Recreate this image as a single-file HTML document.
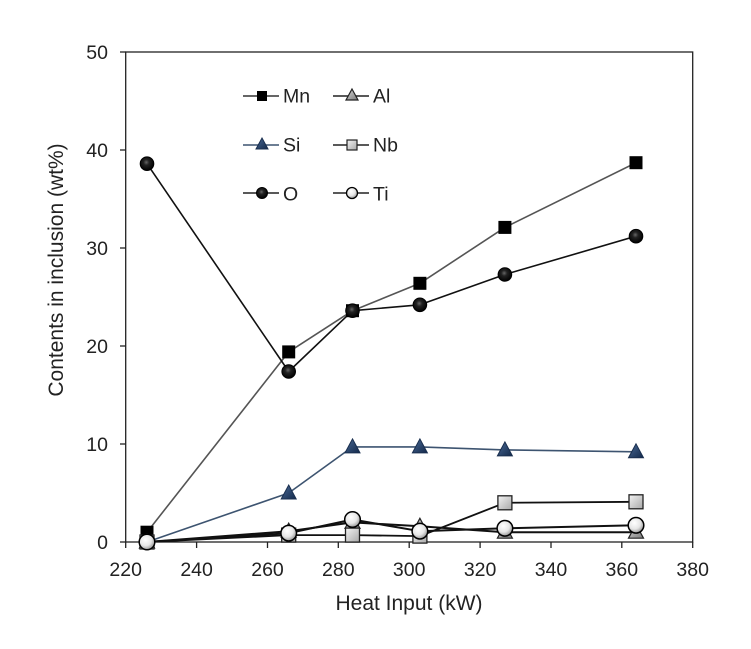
<!DOCTYPE html>
<html><head><meta charset="utf-8"><style>
html,body{margin:0;padding:0;background:#fff;}
svg{display:block;font-family:"Liberation Sans",Arial,sans-serif;}
</style></head><body>
<svg width="751" height="649" viewBox="0 0 751 649" xmlns="http://www.w3.org/2000/svg">
<defs>
<radialGradient id="gTi" cx="40%" cy="35%" r="65%"><stop offset="0" stop-color="#ffffff"/><stop offset="0.6" stop-color="#e6e6e6"/><stop offset="1" stop-color="#9a9a9a"/></radialGradient>
<radialGradient id="gO" cx="45%" cy="40%" r="60%"><stop offset="0" stop-color="#666"/><stop offset="0.35" stop-color="#222"/><stop offset="1" stop-color="#000"/></radialGradient>
<linearGradient id="gNb" x1="0" y1="0" x2="1" y2="1"><stop offset="0" stop-color="#f4f4f4"/><stop offset="1" stop-color="#a8a8a8"/></linearGradient>
<linearGradient id="gAl" x1="0" y1="0" x2="1" y2="1"><stop offset="0" stop-color="#d8d8d8"/><stop offset="1" stop-color="#7a7a7a"/></linearGradient>
<linearGradient id="gSi" x1="0" y1="0" x2="1" y2="1"><stop offset="0" stop-color="#4a6a96"/><stop offset="1" stop-color="#13294a"/></linearGradient>
<rect id="mMn" x="-6.5" y="-6.5" width="13" height="13" fill="#000"/>
<circle id="mO" r="6.8" fill="url(#gO)" stroke="#000" stroke-width="1"/>
<polygon id="mSi" points="0,-8 7.5,6 -7.5,6" fill="url(#gSi)" stroke="#1a2f4f" stroke-width="1"/>
<polygon id="mAl" points="0,-8 7.5,6 -7.5,6" fill="url(#gAl)" stroke="#222" stroke-width="1.2"/>
<rect id="mNb" x="-7" y="-7" width="14" height="14" fill="url(#gNb)" stroke="#222" stroke-width="1.3"/>
<circle id="mTi" r="7.8" fill="url(#gTi)" stroke="#000" stroke-width="1.5"/>
</defs>

<!-- frame -->
<rect x="125.7" y="52" width="567" height="490" fill="none" stroke="#222" stroke-width="1.3"/>
<g stroke="#222" stroke-width="1.3">
<line x1="120" y1="542" x2="125.7" y2="542"/>
<line x1="120" y1="444" x2="125.7" y2="444"/>
<line x1="120" y1="346" x2="125.7" y2="346"/>
<line x1="120" y1="248" x2="125.7" y2="248"/>
<line x1="120" y1="150" x2="125.7" y2="150"/>
<line x1="120" y1="52" x2="125.7" y2="52"/>
<line x1="125.7" y1="542" x2="125.7" y2="548"/>
<line x1="196.6" y1="542" x2="196.6" y2="548"/>
<line x1="267.5" y1="542" x2="267.5" y2="548"/>
<line x1="338.3" y1="542" x2="338.3" y2="548"/>
<line x1="409.2" y1="542" x2="409.2" y2="548"/>
<line x1="480.1" y1="542" x2="480.1" y2="548"/>
<line x1="551" y1="542" x2="551" y2="548"/>
<line x1="621.8" y1="542" x2="621.8" y2="548"/>
<line x1="692.7" y1="542" x2="692.7" y2="548"/>
</g>
<g font-size="19.5" fill="#222" text-anchor="end">
<text x="108" y="549">0</text>
<text x="108" y="451">10</text>
<text x="108" y="353">20</text>
<text x="108" y="255">30</text>
<text x="108" y="157">40</text>
<text x="108" y="59">50</text>
</g>
<g font-size="19.5" fill="#222" text-anchor="middle">
<text x="125.7" y="576">220</text>
<text x="196.6" y="576">240</text>
<text x="267.5" y="576">260</text>
<text x="338.3" y="576">280</text>
<text x="409.2" y="576">300</text>
<text x="480.1" y="576">320</text>
<text x="551" y="576">340</text>
<text x="621.8" y="576">360</text>
<text x="692.7" y="576">380</text>
</g>
<g font-size="21" fill="#222" text-anchor="middle">
<text x="409" y="610">Heat Input (kW)</text>
<text transform="translate(63,270) rotate(-90)">Contents in inclusion (wt%)</text>
</g>

<!-- series lines -->
<g fill="none" stroke-width="1.6" stroke-linejoin="round">
<polyline stroke="#555" points="147,532.2 288.7,351.9 352.5,310.7 419.9,283.3 504.9,227.4 636,162.7"/>
<polyline stroke="#3d5470" points="147,542 288.7,493 352.5,446.9 419.9,446.9 504.9,449.9 636,451.8"/>
<polyline stroke="#111" points="147,163.7 288.7,371.5 352.5,310.7 419.9,304.8 504.9,274.5 636,236.2"/>
<polyline stroke="#111" stroke-width="2" points="147,542 288.7,531.2 352.5,522.4 419.9,526.3 504.9,532.2 636,532.2"/>
<polyline stroke="#111" stroke-width="1.8" points="147,542 288.7,535.1 352.5,535.1 419.9,536.1 504.9,502.8 636,501.8"/>
<polyline stroke="#111" stroke-width="2" points="147,542 288.7,533.2 352.5,519.5 419.9,531.2 504.9,528.3 636,525.3"/>
</g>

<!-- markers -->
<use href="#mMn" x="147" y="532.2"/><use href="#mMn" x="288.7" y="351.9"/><use href="#mMn" x="352.5" y="310.7"/><use href="#mMn" x="419.9" y="283.3"/><use href="#mMn" x="504.9" y="227.4"/><use href="#mMn" x="636" y="162.7"/>
<use href="#mSi" x="147" y="542"/><use href="#mSi" x="288.7" y="493"/><use href="#mSi" x="352.5" y="446.9"/><use href="#mSi" x="419.9" y="446.9"/><use href="#mSi" x="504.9" y="449.9"/><use href="#mSi" x="636" y="451.8"/>
<use href="#mO" x="147" y="163.7"/><use href="#mO" x="288.7" y="371.5"/><use href="#mO" x="352.5" y="310.7"/><use href="#mO" x="419.9" y="304.8"/><use href="#mO" x="504.9" y="274.5"/><use href="#mO" x="636" y="236.2"/>
<use href="#mAl" x="147" y="542"/><use href="#mAl" x="288.7" y="531.2"/><use href="#mAl" x="352.5" y="522.4"/><use href="#mAl" x="419.9" y="526.3"/><use href="#mAl" x="504.9" y="532.2"/><use href="#mAl" x="636" y="532.2"/>
<use href="#mNb" x="147" y="542"/><use href="#mNb" x="288.7" y="535.1"/><use href="#mNb" x="352.5" y="535.1"/><use href="#mNb" x="419.9" y="536.1"/><use href="#mNb" x="504.9" y="502.8"/><use href="#mNb" x="636" y="501.8"/>
<use href="#mTi" x="147" y="542"/><use href="#mTi" x="288.7" y="533.2"/><use href="#mTi" x="352.5" y="519.5"/><use href="#mTi" x="419.9" y="531.2"/><use href="#mTi" x="504.9" y="528.3"/><use href="#mTi" x="636" y="525.3"/>

<!-- legend -->
<g stroke-width="1.6">
<line x1="243" y1="96" x2="279" y2="96" stroke="#333"/>
<line x1="333" y1="96" x2="369" y2="96" stroke="#222"/>
<line x1="243" y1="145" x2="279" y2="145" stroke="#3d5470"/>
<line x1="333" y1="145" x2="369" y2="145" stroke="#222"/>
<line x1="243" y1="193" x2="279" y2="193" stroke="#222"/>
<line x1="333" y1="193" x2="369" y2="193" stroke="#222"/>
</g>
<rect x="257" y="91" width="10" height="10" fill="#000"/>
<polygon points="352,89 358,100 346,100" fill="url(#gAl)" stroke="#222" stroke-width="1.2"/>
<polygon points="262,138 268,149 256,149" fill="url(#gSi)" stroke="#1a2f4f" stroke-width="1"/>
<rect x="347" y="140" width="10" height="10" fill="url(#gNb)" stroke="#222" stroke-width="1.2"/>
<circle cx="262" cy="193" r="5.5" fill="url(#gO)" stroke="#000" stroke-width="1"/>
<circle cx="352" cy="193" r="5.5" fill="url(#gTi)" stroke="#000" stroke-width="1.3"/>
<g font-size="19.5" fill="#222">
<text x="283" y="102.5">Mn</text>
<text x="373" y="102.5">Al</text>
<text x="283" y="151.5">Si</text>
<text x="373" y="151.5">Nb</text>
<text x="283" y="200.5">O</text>
<text x="373" y="200.5">Ti</text>
</g>
</svg>
</body></html>
